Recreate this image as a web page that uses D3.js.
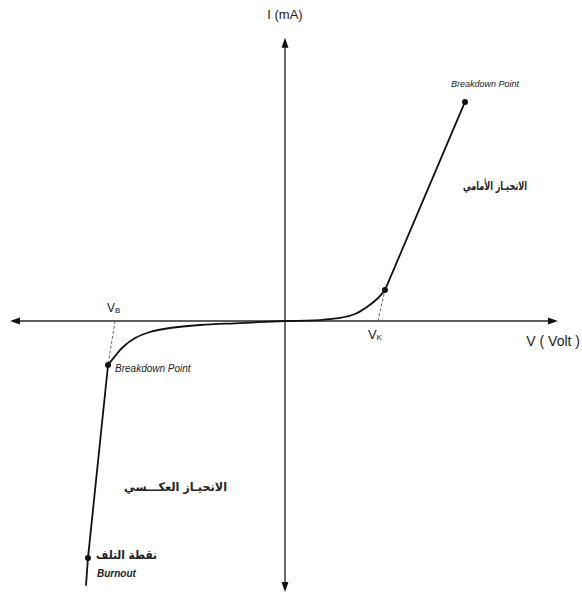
<!DOCTYPE html>
<html>
<head>
<meta charset="utf-8">
<script src="https://cdn.jsdelivr.net/npm/d3@7"></script>
<style>
  html, body { margin: 0; padding: 0; background: #fff; }
  svg { display: block; }
  text { font-family: "Liberation Sans", Arial, sans-serif; fill: #222; }
  .ar { font-family: "DejaVu Sans", sans-serif; font-weight: bold; }
</style>
</head>
<body>
<script>
// Diode I-V characteristic (arbitrary units; origin at 0,0)
const forwardV = [0, 2.55, 4.0, 5.09, 5.96, 6.69, 7.27];
const forwardI = [0, 0.07, 0.22, 0.51, 1.02, 1.60, 2.25];
const forwardLinearV = [7.27, 13.09];
const forwardLinearI = [2.25, 15.93];

const reverseV = [0, -3.27, -6.18, -8.36, -9.82, -10.9, -11.78, -12.36, -12.87];
const reverseI = [0, -0.15, -0.29, -0.51, -0.80, -1.24, -1.89, -2.55, -3.20];
const reverseLinearV = [-12.87, -14.33, -14.47];
const reverseLinearI = [-3.20, -17.24, -19.2];

const kneeVoltage = 6.76;       // Vk
const breakdownVoltage = -12.36; // VB
const axisV = [-20, 19.85];
const axisI = [-19.7, 20.6];

const W = 582, H = 605;
const x = d3.scaleLinear().domain([-20, 20]).range([10, 560]);
const y = d3.scaleLinear().domain([-20, 20]).range([596, 46]);

const svg = d3.select("body").append("svg").attr("width", W).attr("height", H);

// axes with arrowheads
const axisColor = "#2a2a2a";
svg.append("line").attr("x1", x(axisV[0]) + 6).attr("x2", x(axisV[1]) - 6)
  .attr("y1", y(0)).attr("y2", y(0)).attr("stroke", axisColor).attr("stroke-width", 1.6);
svg.append("line").attr("x1", x(0)).attr("x2", x(0))
  .attr("y1", y(axisI[1]) + 6).attr("y2", y(axisI[0]) - 6).attr("stroke", axisColor).attr("stroke-width", 1.4);

function arrow(tx, ty, dir) {
  const L = 10, w = 3.5;
  let pts;
  if (dir === "left") pts = [[tx, ty], [tx + L, ty - w], [tx + L, ty + w]];
  if (dir === "right") pts = [[tx, ty], [tx - L, ty - w], [tx - L, ty + w]];
  if (dir === "up") pts = [[tx, ty], [tx - w, ty + L], [tx + w, ty + L]];
  if (dir === "down") pts = [[tx, ty], [tx - w, ty - L], [tx + w, ty - L]];
  svg.append("polygon").attr("points", pts.map(p => p.join(",")).join(" ")).attr("fill", "#111");
}
arrow(x(axisV[0]), y(0), "left");
arrow(x(axisV[1]), y(0), "right");
arrow(x(0), y(axisI[1]), "up");
arrow(x(0), y(axisI[0]), "down");

// dashed extrapolation lines to Vk and VB
svg.append("line").attr("x1", x(kneeVoltage)).attr("y1", y(0))
  .attr("x2", x(forwardLinearV[0])).attr("y2", y(forwardLinearI[0]))
  .attr("stroke", "#555").attr("stroke-width", 0.9).attr("stroke-dasharray", "3,2");
svg.append("line").attr("x1", x(breakdownVoltage)).attr("y1", y(0))
  .attr("x2", x(reverseV[reverseV.length - 1])).attr("y2", y(reverseI[reverseI.length - 1]))
  .attr("stroke", "#555").attr("stroke-width", 0.9).attr("stroke-dasharray", "3,2");

// characteristic curve
const line = d3.line().x(d => x(d[0])).y(d => y(d[1])).curve(d3.curveCatmullRom.alpha(0.5));
const straight = d3.line().x(d => x(d[0])).y(d => y(d[1]));
const fwd = forwardV.map((v, i) => [v, forwardI[i]]);
const rev = reverseV.map((v, i) => [v, reverseI[i]]);
const fwdLin = forwardLinearV.map((v, i) => [v, forwardLinearI[i]]);
const revLin = reverseLinearV.map((v, i) => [v, reverseLinearI[i]]);

[[fwd, line], [rev, line], [fwdLin, straight], [revLin, straight]].forEach(([d, gen]) => {
  svg.append("path").attr("d", gen(d)).attr("fill", "none")
    .attr("stroke", "#111").attr("stroke-width", 1.8).attr("stroke-linecap", "round");
});

// marked points
const dots = [
  [forwardLinearV[0], forwardLinearI[0]],
  [forwardLinearV[1], forwardLinearI[1]],
  [reverseLinearV[0], reverseLinearI[0]],
  [reverseLinearV[1], reverseLinearI[1]]
];
svg.selectAll("circle.pt").data(dots).join("circle").attr("class", "pt")
  .attr("cx", d => x(d[0])).attr("cy", d => y(d[1])).attr("r", 3).attr("fill", "#111");

// labels
svg.append("text").attr("x", x(0)).attr("y", 19).attr("text-anchor", "middle")
  .attr("font-size", 13).text("I (mA)");
svg.append("text").attr("x", 580).attr("y", 346).attr("text-anchor", "end")
  .attr("font-size", 14).text("V ( Volt )");

const vk = svg.append("text").attr("x", x(kneeVoltage) - 10).attr("y", 339).attr("font-size", 13);
vk.append("tspan").text("V");
vk.append("tspan").attr("font-size", 8).attr("dy", 1).text("K");

const vb = svg.append("text").attr("x", x(breakdownVoltage) - 8).attr("y", 312).attr("font-size", 12);
vb.append("tspan").text("V");
vb.append("tspan").attr("font-size", 8).attr("dy", 1).text("B");

svg.append("text").attr("x", x(forwardLinearV[1]) - 14).attr("y", 87)
  .attr("font-size", 9).attr("font-style", "italic").attr("fill", "#444").text("Breakdown Point");
svg.append("text").attr("x", x(reverseLinearV[0]) + 7).attr("y", 372)
  .attr("font-size", 10).attr("font-style", "italic").attr("fill", "#333").text("Breakdown Point");

// Arabic labels, placed by their left edge and condensed to a set width
function arLabel(lx, by, width, txt) {
  svg.append("text").attr("class", "ar").attr("x", lx).attr("y", by)
    .attr("font-size", 12).attr("textLength", width)
    .attr("lengthAdjust", "spacingAndGlyphs").text(txt);
}
arLabel(463, 190, 64, "الانحيـاز الأمامي");
arLabel(124, 491, 103, "الانحيـاز العكـــسي");
arLabel(96, 559, 61, "نقطة التلف");

svg.append("text").attr("x", 97).attr("y", 577).attr("font-size", 10)
  .attr("font-style", "italic").attr("font-weight", "bold").text("Burnout");
</script>
</body>
</html>
